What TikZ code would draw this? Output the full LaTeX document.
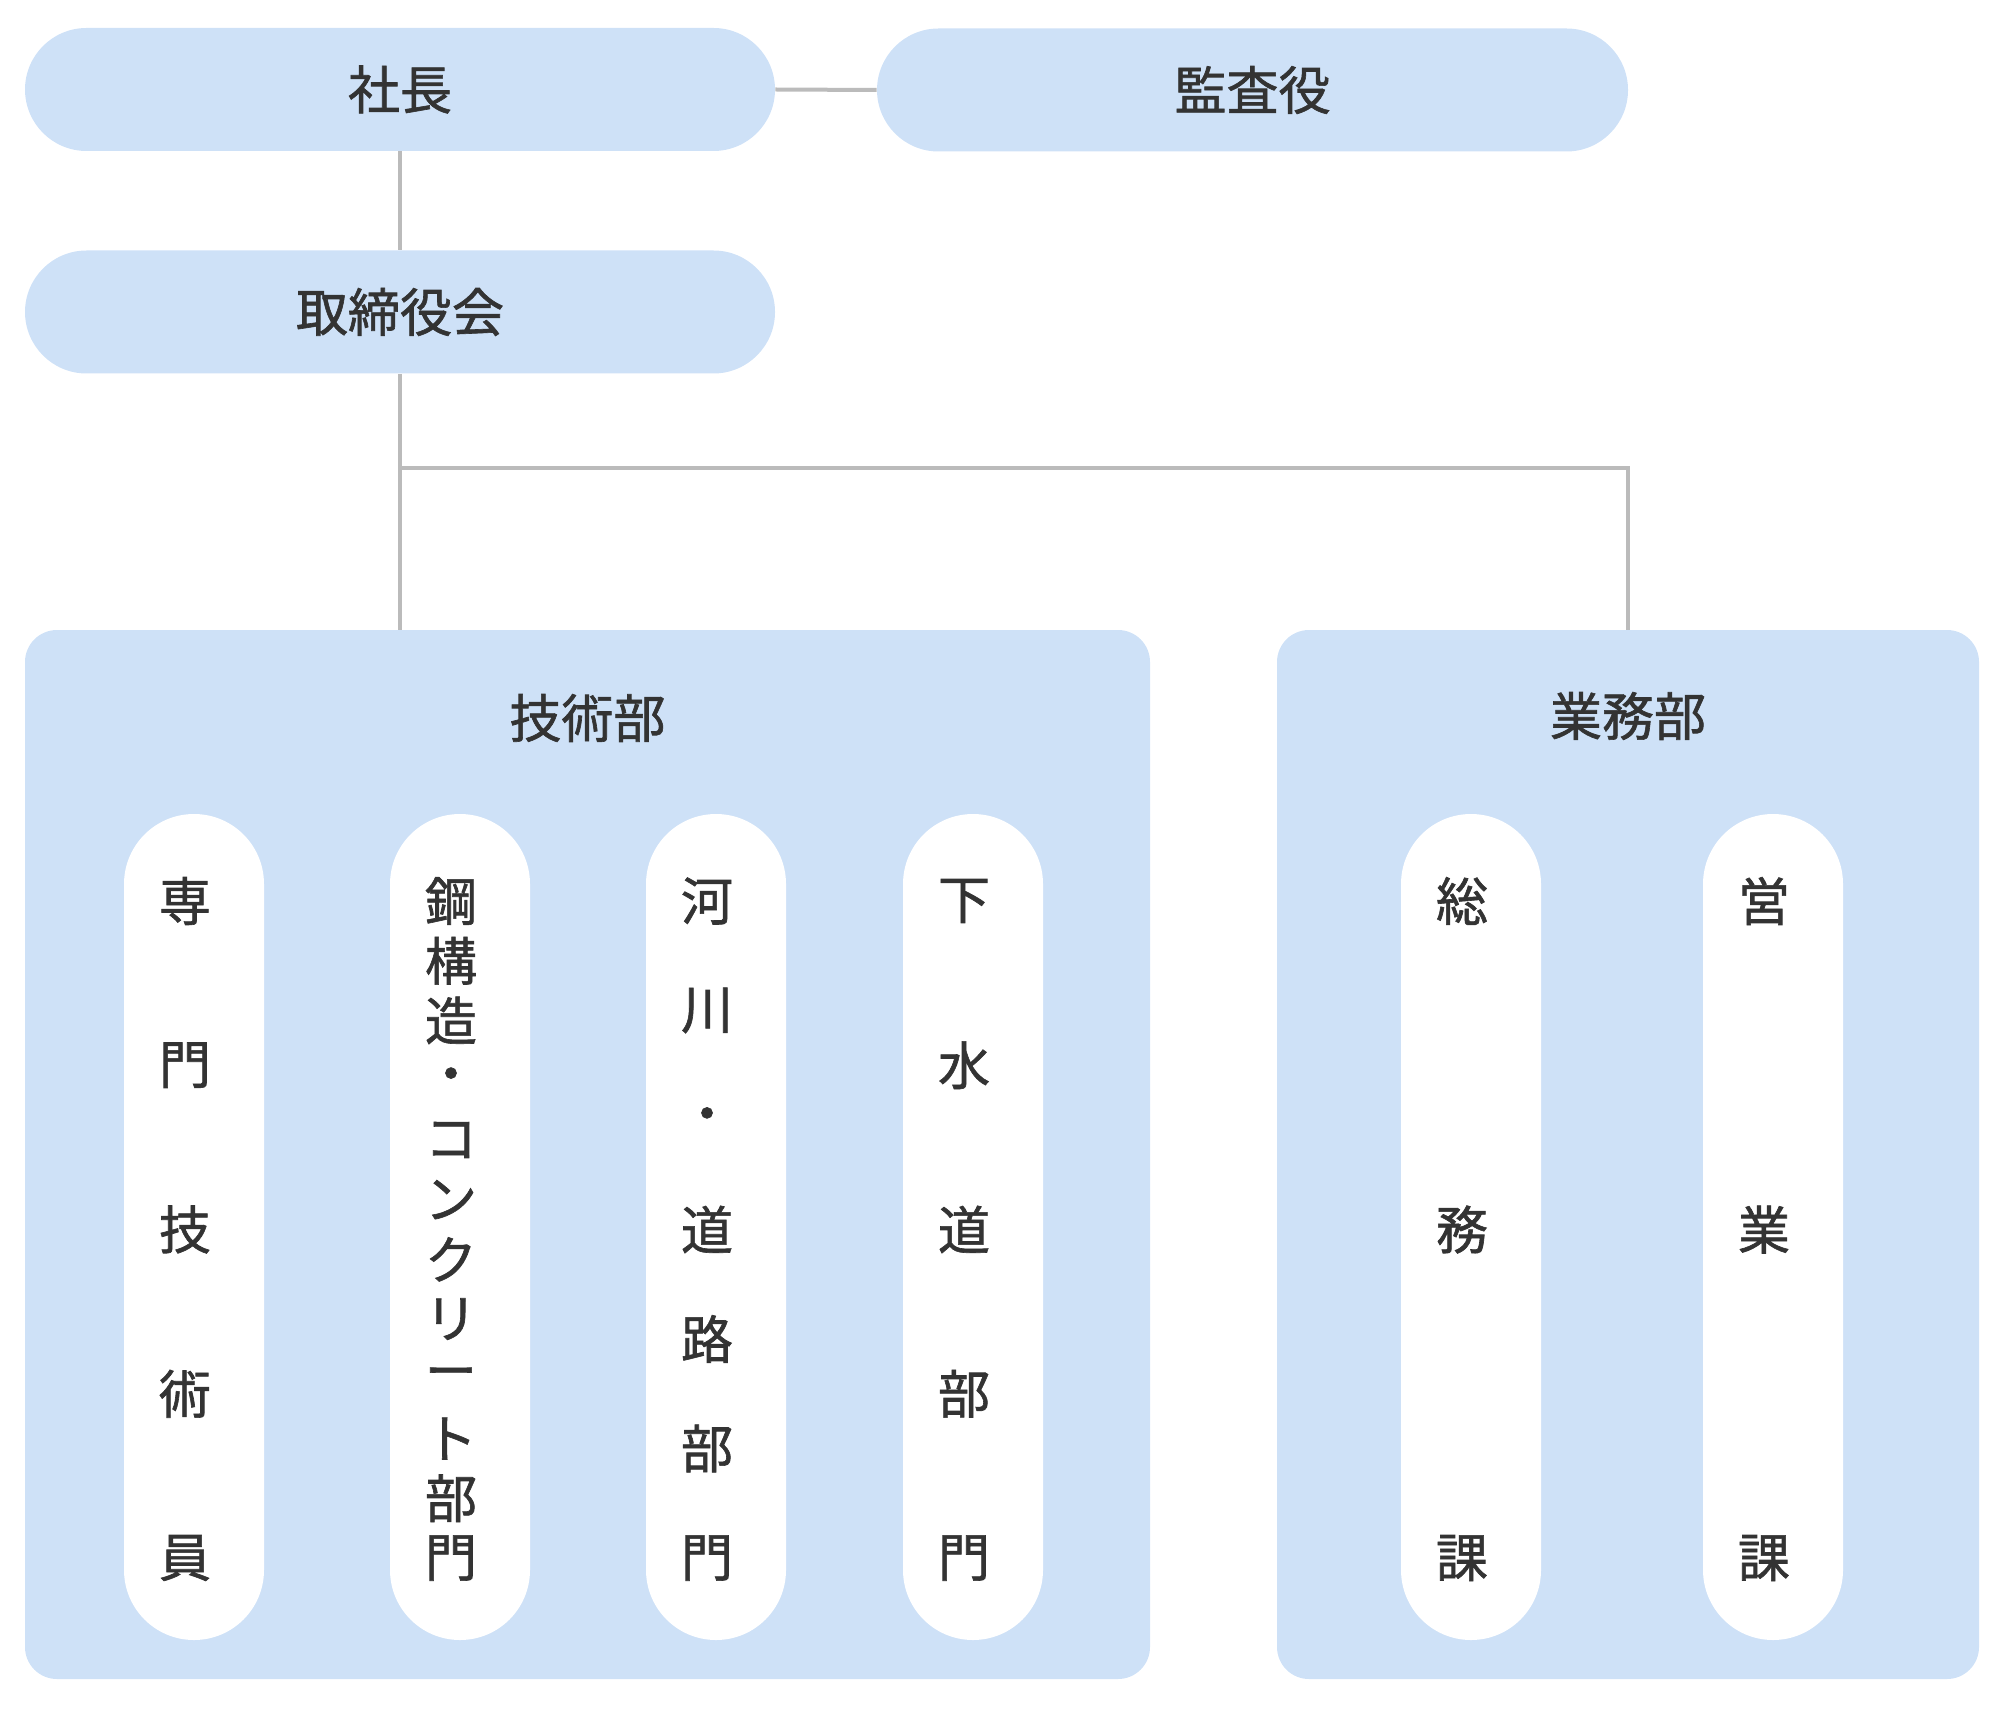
\documentclass[tikz,border=0pt]{standalone}
\usepackage{fontspec}
\setmainfont{Noto Sans CJK JP}
\newfontfamily\medfont[FakeBold=1.2]{Noto Sans CJK JP}
\definecolor{boxblue}{HTML}{CEE1F7}
\definecolor{linegray}{HTML}{BBBBBB}
\definecolor{txt}{HTML}{333333}
\tikzset{
  conn/.style={draw=linegray, line width=2pt},
  toppill/.style={fill=boxblue, rounded corners=30.75pt, minimum width=375pt, minimum height=61.5pt, inner sep=0pt, font=\medfont\fontsize{26}{30}\selectfont, text=txt},
  deptbox/.style={fill=boxblue, rounded corners=16pt, minimum height=524.5pt, inner sep=0pt},
  deptlabel/.style={font=\medfont\fontsize{26}{30}\selectfont, text=txt, inner sep=0pt},
  subpill/.style={fill=white, rounded corners=35pt, minimum width=70pt, minimum height=413pt, inner sep=0pt},
  ch/.style={font=\medfont\fontsize{26}{30}\selectfont, text=txt, inner sep=0pt}
}
\begin{document}
\begin{tikzpicture}[x=0.5pt,y=-0.5pt]
\useasboundingbox (0,0) rectangle (2000,1711);
% top pills
\node[toppill] (shacho) at (400,89.5) {社長};
\node[toppill, minimum width=375.5pt] (kansa) at (1252.5,90) {監査役};
\node[toppill] (torishimari) at (400,312) {取締役会};
% department boxes
\node[deptbox, minimum width=562.5pt] (gijutsu) at (587.5,1154.5) {};
\node[deptbox, minimum width=351pt] (gyomu) at (1628,1154.5) {};
\node[deptlabel] (gijutsuL) at (587.5,718) {技術部};
\node[deptlabel] (gyomuL) at (1628,716) {業務部};
% connectors
\draw[conn] (shacho.east) -- (kansa.west);
\draw[conn] (shacho.south) -- (torishimari.north);
\draw[conn] (torishimari.south) -- (torishimari.south |- gijutsu.north);
\coordinate (br) at (402,468);
\draw[conn] (br) -| (gyomu.north);
% sub pills
\node[subpill] (p1) at (194,1227) {};
\node[subpill] (p2) at (460,1227) {};
\node[subpill] (p3) at (716,1227) {};
\node[subpill] (p4) at (973,1227) {};
\node[subpill] (p5) at (1471,1227) {};
\node[subpill] (p6) at (1773,1227) {};
% vertical texts
\foreach \c [count=\i] in {専,門,技,術,員}
  \node[ch] (a\i) at (185,{901+(\i-1)*164.25}) {\c};
\foreach \c [count=\i] in {鋼,構,造,・,コ,ン,ク,リ,ー,ト,部,門}
  \node[ch] (b\i) at (451,{901+(\i-1)*59.727}) {\c};
\foreach \c [count=\i] in {河,川,・,道,路,部,門}
  \node[ch] (c\i) at (707,{901+(\i-1)*109.5}) {\c};
\foreach \c [count=\i] in {下,水,道,部,門}
  \node[ch] (d\i) at (964,{901+(\i-1)*164.25}) {\c};
\foreach \c [count=\i] in {総,務,課}
  \node[ch] (e\i) at (1462,{901+(\i-1)*328.5}) {\c};
\foreach \c [count=\i] in {営,業,課}
  \node[ch] (f\i) at (1764,{901+(\i-1)*328.5}) {\c};
\end{tikzpicture}
\end{document}
